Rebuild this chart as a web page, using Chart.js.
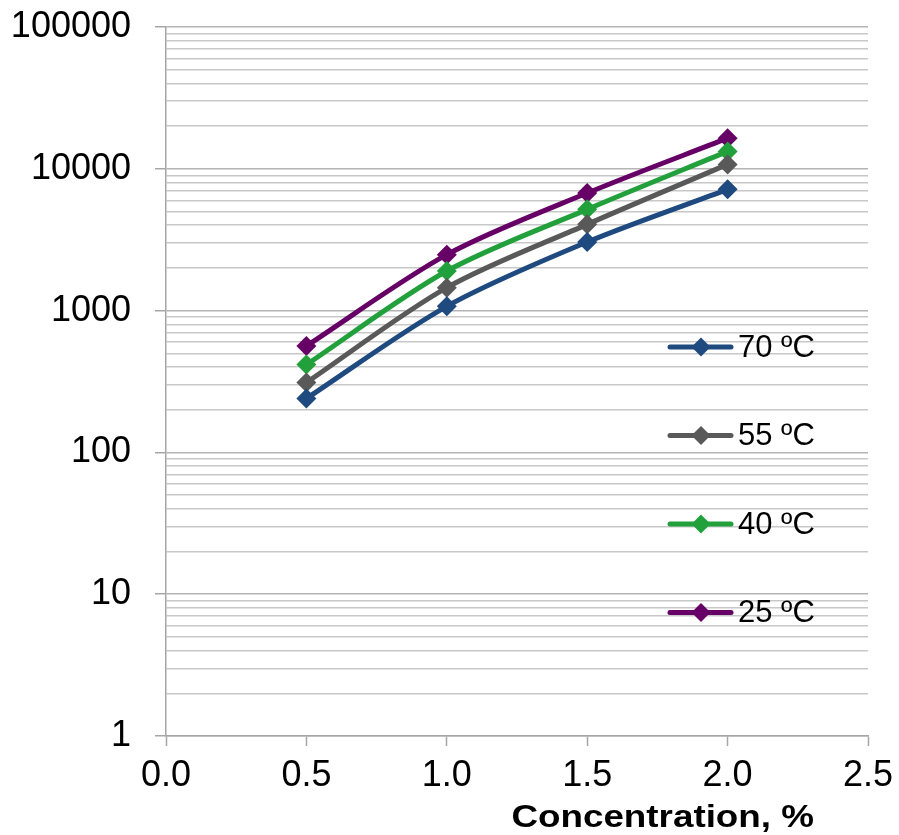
<!DOCTYPE html>
<html>
<head>
<meta charset="utf-8">
<script src="https://cdn.jsdelivr.net/npm/chart.js@4.4.1/dist/chart.umd.min.js"></script>
<style>
  html, body { margin: 0; padding: 0; background: #fff; }
  #chart { display: block; }
</style>
</head>
<body>
<canvas id="chart" width="899" height="835"></canvas>
<script>
// Viscosity-style log plot: value vs. concentration at four temperatures
const concentration = [0.5, 1.0, 1.5, 2.0];
const seriesLabels = ['70 ºC', '55 ºC', '40 ºC', '25 ºC'];
const values70 = [240, 1072, 3045, 7160];
const values55 = [311, 1452, 4057, 10740];
const values40 = [416, 1901, 5175, 13265];
const values25 = [563, 2480, 6745, 16450];
const seriesColors = ['#1f4a7f', '#595959', '#22a03c', '#660066'];

const xTicks = [0, 0.5, 1.0, 1.5, 2.0, 2.5];
const yMajorTicks = [1, 10, 100, 1000, 10000, 100000];

const FONT = 'Arial, "Liberation Sans", sans-serif';

function makeSeries(label, values, color) {
  return {
    label: label,
    data: concentration.map((x, i) => ({ x: x, y: values[i] })),
    borderColor: color,
    backgroundColor: color,
    borderWidth: 5,
    tension: 0.3,
    pointStyle: 'rectRot',
    pointRadius: 10,
    pointHoverRadius: 10,
    pointBorderWidth: 0
  };
}

// Legend sits inside the plot, stacked down the right side
const innerLegend = {
  id: 'innerLegend',
  afterDraw(chart) {
    const ctx = chart.ctx;
    const area = chart.chartArea;
    const startY = area.top + 320;
    const gap = 88.5;
    ctx.save();
    chart.data.datasets.forEach((ds, i) => {
      const y = startY + i * gap;
      const x0 = area.right - 198;
      ctx.strokeStyle = ds.borderColor;
      ctx.lineWidth = 5;
      ctx.lineCap = 'round';
      ctx.beginPath();
      ctx.moveTo(x0, y);
      ctx.lineTo(x0 + 61, y);
      ctx.stroke();
      ctx.fillStyle = ds.borderColor;
      ctx.beginPath();
      ctx.moveTo(x0 + 31, y - 9.5);
      ctx.lineTo(x0 + 40.5, y);
      ctx.lineTo(x0 + 31, y + 9.5);
      ctx.lineTo(x0 + 21.5, y);
      ctx.closePath();
      ctx.fill();
      ctx.fillStyle = '#000';
      ctx.font = '31px ' + FONT;
      ctx.textAlign = 'left';
      ctx.textBaseline = 'middle';
      ctx.fillText(ds.label, x0 + 68, y + 1);
    });
    ctx.restore();
  }
};

// Bold axis title, right of centre under the x ticks (drawn slightly wide)
const xAxisTitle = {
  id: 'xAxisTitle',
  afterDraw(chart) {
    const ctx = chart.ctx;
    const area = chart.chartArea;
    const right = area.right - 54;
    ctx.save();
    ctx.fillStyle = '#000';
    ctx.font = 'bold 32px ' + FONT;
    ctx.textAlign = 'right';
    ctx.textBaseline = 'alphabetic';
    ctx.translate(right, 827);
    ctx.scale(1.15, 1);
    ctx.fillText('Concentration, %', 0, 0);
    ctx.restore();
  }
};

new Chart(document.getElementById('chart'), {
  type: 'line',
  data: {
    datasets: [
      makeSeries(seriesLabels[0], values70, seriesColors[0]),
      makeSeries(seriesLabels[1], values55, seriesColors[1]),
      makeSeries(seriesLabels[2], values40, seriesColors[2]),
      makeSeries(seriesLabels[3], values25, seriesColors[3])
    ]
  },
  options: {
    responsive: false,
    animation: false,
    layout: { padding: { left: 10, right: 31, top: 27, bottom: 0 } },
    plugins: {
      legend: { display: false },
      tooltip: { enabled: false }
    },
    scales: {
      x: {
        type: 'linear',
        min: 0,
        max: 2.5,
        afterBuildTicks(scale) {
          scale.ticks = xTicks.map(v => ({ value: v }));
        },
        afterFit(scale) {
          scale.height = 99;
          scale.paddingLeft = 0;
          scale.paddingRight = 0;
        },
        border: { color: '#a6a6a6', width: 1.5 },
        grid: {
          drawOnChartArea: false,
          drawTicks: true,
          tickLength: 10,
          tickColor: '#a6a6a6',
          tickWidth: 1.5
        },
        ticks: {
          color: '#000',
          padding: 8,
          font: { family: FONT, size: 36 },
          callback: v => v.toFixed(1)
        }
      },
      y: {
        type: 'logarithmic',
        min: 1,
        max: 100000,
        afterBuildTicks(scale) {
          const ticks = [];
          for (let p = 0; p < 5; p++) {
            for (let m = 1; m < 10; m++) ticks.push({ value: m * Math.pow(10, p) });
          }
          ticks.push({ value: 100000 });
          scale.ticks = ticks;
        },
        afterFit(scale) {
          scale.width = 156;
          scale.paddingTop = 0;
          scale.paddingBottom = 0;
        },
        border: { color: '#a6a6a6', width: 1.5 },
        grid: {
          lineWidth: 1.5,
          color: ctx => yMajorTicks.includes(ctx.tick && ctx.tick.value) ? '#b4b4b4' : '#c8c8c8',
          tickLength: 11,
          tickColor: ctx => yMajorTicks.includes(ctx.tick && ctx.tick.value) ? '#a6a6a6' : 'rgba(0,0,0,0)'
        },
        ticks: {
          color: '#000',
          padding: 24,
          autoSkip: false,
          font: { family: FONT, size: 36 },
          callback: v => yMajorTicks.includes(v) ? String(v) : ''
        }
      }
    }
  },
  plugins: [innerLegend, xAxisTitle]
});
</script>
</body>
</html>
